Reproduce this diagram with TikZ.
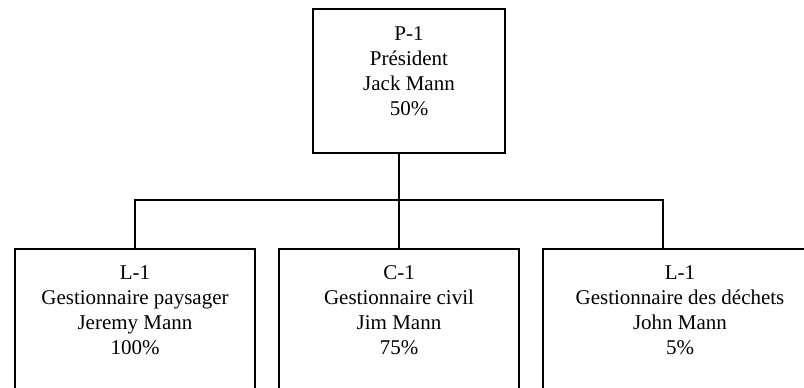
\documentclass[tikz,border=0pt]{standalone}
\usepackage{fontspec}
\setmainfont{Liberation Serif}
\usetikzlibrary{positioning}

\begin{document}
\begin{tikzpicture}[
        x=1pt,
        y=-1pt,
        every node/.style={inner sep=0pt},
        post/.style={draw, line width=1.5pt, anchor=north, minimum width=240pt, minimum height=160pt},
        posttext/.style={align=center, anchor=north, font=\fontsize{21}{25}\selectfont},
        link/.style={line width=1.5pt}
    ]
    \useasboundingbox (0,0) rectangle (804,388);
    \clip (0,0) rectangle (804,388);

    % boxes
    \node[post, minimum width=192pt, minimum height=144pt] (pres) at (409,8) {};
    \node[post] (land) at (135,248) {};
    \node[post] (civil) at (399,248) {};
    \node[post, minimum width=274pt] (waste) at (680,248) {};

    % texts
    \node[posttext, below=18pt of pres.north] (pres-t) {P-1\\Président\\Jack Mann\\50\%};
    \node[posttext, below=17pt of land.north] (land-t) {L-1\\Gestionnaire paysager\\Jeremy Mann\\100\%};
    \node[posttext, below=17pt of civil.north] (civil-t) {C-1\\Gestionnaire civil\\Jim Mann\\75\%};
    \node[posttext, below=17pt of waste.north] (waste-t) {L-1\\Gestionnaire des déchets\\John Mann\\5\%};

    % links
    \coordinate (bus-r) at (663,200);
    \draw[link] (pres.south -| civil.north) -- (civil.north);
    \draw[link] (land.north) |- (bus-r) -- (bus-r |- waste.north);
\end{tikzpicture}
\end{document}
